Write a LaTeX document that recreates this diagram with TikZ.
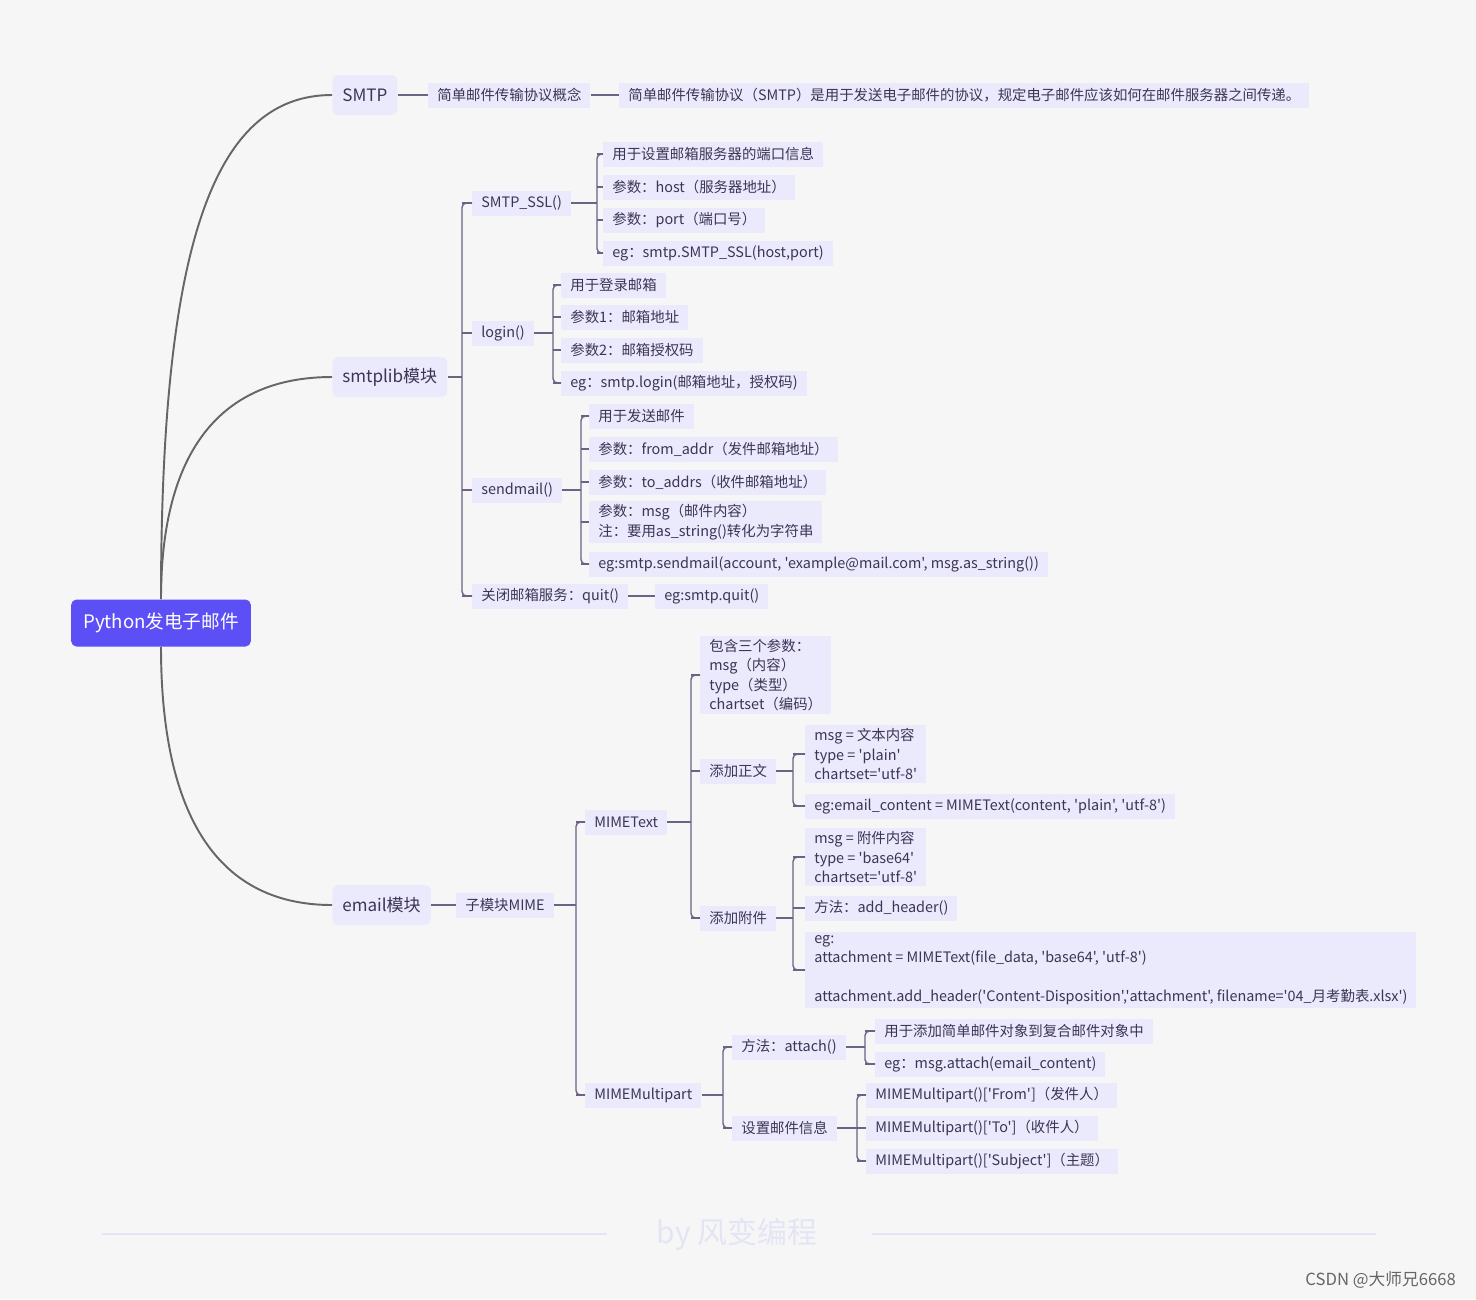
\documentclass[tikz,border=0pt]{standalone}
\usepackage{fontspec}
\setmainfont{Noto Sans CJK SC}[Ligatures=TeXOff]
\usetikzlibrary{positioning}

\definecolor{bgcol}{HTML}{F6F6F6}
\definecolor{nodefill}{HTML}{EAEAFC}
\definecolor{ink}{HTML}{3D3456}
\definecolor{linkcol}{HTML}{6B6285}
\definecolor{curvecol}{HTML}{666666}
\definecolor{rootfill}{HTML}{5B4FF5}
\definecolor{footcol}{HTML}{E4E5F4}

\newcommand{\leaffont}{\fontsize{8.2}{11}\selectfont}
\newcommand{\topicfont}{\fontsize{9.7}{12}\selectfont}

% bracket: x of the spine, parent, first child, last child, all children
\newcommand{\branchto}[5]{%
  \coordinate (bx) at (#1,0);
  \draw[link] (#2.east) -- (bx |- #2.east);
  \draw[link, rounded corners=2.5pt] (#3.west) -- (bx |- #3.west) -- (bx |- #4.west) -- (#4.west);
  \foreach \c in {#5} \draw[link] (bx |- \c.west) -- (\c.west);
}

\tikzset{
  root/.style={fill=rootfill, text=white, rounded corners=3pt, font=\fontsize{10.6}{13}\selectfont,
    inner xsep=0.24cm, minimum height=0.94cm},
  topic/.style={fill=nodefill, text=ink, rounded corners=3pt, font=\topicfont,
    inner xsep=0.2cm, minimum height=0.8cm, anchor=west},
  leaf/.style={fill=nodefill, text=ink, font=\leaffont, align=left,
    inner xsep=0.18cm, inner ysep=0.07cm, minimum height=0.5cm, anchor=west},
  link/.style={draw=linkcol, line width=0.8pt},
  curve/.style={draw=curvecol, line width=1.1pt},
  footline/.style={draw=footcol, line width=1.6pt}
}

\begin{document}
\begin{tikzpicture}[x=0.02cm, y=-0.02cm]
  \fill[bgcol] (0,0) rectangle (1476,1299);

  % root and main topics
  \node[root] (root) at (161,623) {Python发电子邮件};
  \node[topic] (smtp) at (332,95) {SMTP};
  \node[topic] (lib) at (332,377) {smtplib模块};
  \node[topic] (email) at (332,905) {email模块};

  \draw[curve] (root.north) .. controls +(0,-350) and +(-120,0) .. (smtp.west);
  \draw[curve] (root.north) .. controls +(0,-150) and +(-110,0) .. (lib.west);
  \draw[curve] (root.south) .. controls +(0,160) and +(-120,0) .. (email.west);

  % SMTP
  \node[leaf] (concept) at (428,95) {简单邮件传输协议概念};
  \node[leaf] (conceptTxt) at (619,95) {简单邮件传输协议（SMTP）是用于发送电子邮件的协议，规定电子邮件应该如何在邮件服务器之间传递。};
  \draw[link] (smtp.east) -- (concept.west);
  \draw[link] (concept.east) -- (conceptTxt.west);

  % smtplib
  \node[leaf] (ssl) at (472,203) {SMTP\_SSL()};
  \node[leaf] (login) at (472,333) {login()};
  \node[leaf] (send) at (472,490) {sendmail()};
  \node[leaf] (quit) at (472,596) {关闭邮箱服务：quit()};
  \branchto{462}{lib}{ssl}{quit}{ssl,login,send,quit}

  \node[leaf] (sslA) at (603,154) {用于设置邮箱服务器的端口信息};
  \node[leaf] (sslB) at (603,187) {参数：host（服务器地址）};
  \node[leaf] (sslC) at (603,220) {参数：port（端口号）};
  \node[leaf] (sslD) at (603,253) {eg：smtp.SMTP\_SSL(host,port)};
  \branchto{597}{ssl}{sslA}{sslD}{sslA,sslB,sslC,sslD}

  \node[leaf] (logA) at (561,285) {用于登录邮箱};
  \node[leaf] (logB) at (561,317) {参数1：邮箱地址};
  \node[leaf] (logC) at (561,350) {参数2：邮箱授权码};
  \node[leaf] (logD) at (561,383) {eg：smtp.login(邮箱地址，授权码)};
  \branchto{553}{login}{logA}{logD}{logA,logB,logC,logD}

  \node[leaf] (sendA) at (589,416) {用于发送邮件};
  \node[leaf] (sendB) at (589,449) {参数：from\_addr（发件邮箱地址）};
  \node[leaf] (sendC) at (589,482) {参数：to\_addrs（收件邮箱地址）};
  \node[leaf] (sendD) at (589,522) {参数：msg（邮件内容）\\注：要用as\_string()转化为字符串};
  \node[leaf] (sendE) at (589,564) {eg:smtp.sendmail(account, 'example@mail.com', msg.as\_string())};
  \branchto{581}{send}{sendA}{sendE}{sendA,sendB,sendC,sendD,sendE}

  \node[leaf] (quitEg) at (655,596) {eg:smtp.quit()};
  \draw[link] (quit.east) -- (quitEg.west);

  % email
  \node[leaf] (mime) at (456,905) {子模块MIME};
  \draw[link] (email.east) -- (mime.west);

  \node[leaf] (mtext) at (585,822) {MIMEText};
  \node[leaf] (mmulti) at (585,1095) {MIMEMultipart};
  \branchto{576}{mime}{mtext}{mmulti}{mtext,mmulti}

  \node[leaf] (tArgs) at (700,675) {包含三个参数：\\msg（内容）\\type（类型）\\chartset（编码）};
  \node[leaf] (tBody) at (700,771) {添加正文};
  \node[leaf] (tAtt) at (700,918) {添加附件};
  \branchto{691}{mtext}{tArgs}{tAtt}{tArgs,tBody,tAtt}

  \node[leaf] (bodyA) at (805,754) {msg = 文本内容\\type = 'plain'\\chartset='utf-8'};
  \node[leaf] (bodyB) at (805,806) {eg:email\_content = MIMEText(content, 'plain', 'utf-8')};
  \branchto{793}{tBody}{bodyA}{bodyB}{bodyA,bodyB}

  \node[leaf] (attA) at (805,857) {msg = 附件内容\\type = 'base64'\\chartset='utf-8'};
  \node[leaf] (attB) at (805,908) {方法：add\_header()};
  \node[leaf] (attC) at (805,970) {eg:\\attachment = MIMEText(file\_data, 'base64', 'utf-8')\\[11pt]attachment.add\_header('Content-Disposition','attachment', filename='04\_月考勤表.xlsx')};
  \branchto{793}{tAtt}{attA}{attC}{attA,attB,attC}

  \node[leaf] (mAttach) at (732,1047) {方法：attach()};
  \node[leaf] (mInfo) at (732,1128) {设置邮件信息};
  \branchto{723}{mmulti}{mAttach}{mInfo}{mAttach,mInfo}

  \node[leaf] (attachA) at (875,1031) {用于添加简单邮件对象到复合邮件对象中};
  \node[leaf] (attachB) at (875,1064) {eg：msg.attach(email\_content)};
  \branchto{865}{mAttach}{attachA}{attachB}{attachA,attachB}

  \node[leaf] (infoA) at (866,1095) {MIMEMultipart()['From']（发件人）};
  \node[leaf] (infoB) at (866,1128) {MIMEMultipart()['To']（收件人）};
  \node[leaf] (infoC) at (866,1161) {MIMEMultipart()['Subject']（主题）};
  \branchto{857}{mInfo}{infoA}{infoC}{infoA,infoB,infoC}

  % footer
  \node[text=footcol, font=\fontsize{17}{20}\selectfont] (brand) at (737,1234) {by 风变编程};
  \draw[footline] (102,1234) -- (607,1234);
  \draw[footline] (872,1234) -- (1376,1234);
  \node[text=gray!80!black, font=\fontsize{9.5}{11}\selectfont, anchor=east] (csdn) at (1462,1280) {CSDN @大师兄6668};
\end{tikzpicture}
\end{document}
